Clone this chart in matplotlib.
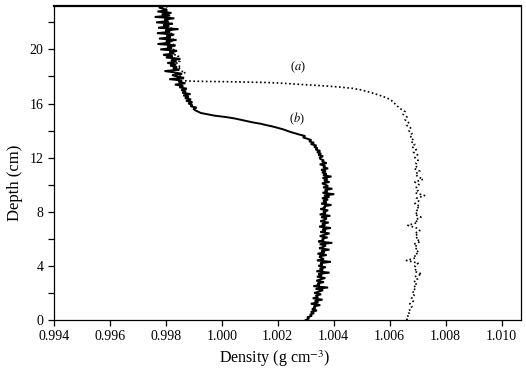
import matplotlib
matplotlib.use("Agg")
import matplotlib.pyplot as plt
from matplotlib.ticker import MultipleLocator, FormatStrFormatter

plt.rcParams['font.family'] = ['Liberation Serif', 'DejaVu Serif']
plt.rcParams['mathtext.fontset'] = 'stix'

# Curve (b): density (g cm^-3) every 0.1 cm of depth, 0 to 23.2 cm
dens_b = [
    1.00300, 1.00312, 1.00305, 1.00322, 1.00315, 1.00330, 1.00318, 1.00340, 1.00322, 1.00335,
    1.00328, 1.00352, 1.00318, 1.00345, 1.00332, 1.00360, 1.00325, 1.00342, 1.00338, 1.00355,
    1.00330, 1.00348, 1.00362, 1.00335, 1.00380, 1.00328, 1.00350, 1.00342, 1.00365, 1.00338,
    1.00352, 1.00370, 1.00340, 1.00358, 1.00345, 1.00385, 1.00338, 1.00362, 1.00350, 1.00372,
    1.00345, 1.00360, 1.00352, 1.00390, 1.00340, 1.00365, 1.00355, 1.00348, 1.00375, 1.00342,
    1.00368, 1.00355, 1.00385, 1.00348, 1.00362, 1.00372, 1.00350, 1.00395, 1.00345, 1.00365,
    1.00358, 1.00378, 1.00350, 1.00368, 1.00385, 1.00352, 1.00372, 1.00360, 1.00390, 1.00348,
    1.00370, 1.00358, 1.00382, 1.00352, 1.00368, 1.00375, 1.00355, 1.00388, 1.00350, 1.00372,
    1.00362, 1.00380, 1.00352, 1.00370, 1.00365, 1.00392, 1.00355, 1.00375, 1.00362, 1.00380,
    1.00358, 1.00385, 1.00365, 1.00402, 1.00360, 1.00378, 1.00368, 1.00395, 1.00362, 1.00380,
    1.00370, 1.00358, 1.00385, 1.00365, 1.00378, 1.00360, 1.00392, 1.00362, 1.00375, 1.00358,
    1.00372, 1.00355, 1.00380, 1.00362, 1.00370, 1.00350, 1.00375, 1.00358, 1.00365, 1.00352,
    1.00350, 1.00362, 1.00345, 1.00355, 1.00340, 1.00352, 1.00335, 1.00342, 1.00330, 1.00338,
    1.00318, 1.00330, 1.00312, 1.00320, 1.00305, 1.00290, 1.00298, 1.00278, 1.00262, 1.00245,
    1.00232, 1.00218, 1.00200, 1.00182, 1.00160, 1.00140, 1.00112, 1.00090, 1.00068, 1.00045,
    1.00015, 0.99975, 0.99950, 0.99925, 0.99915, 0.99905, 0.99898, 0.99910, 0.99888, 0.99895,
    0.99880, 0.99895, 0.99872, 0.99890, 0.99868, 0.99882, 0.99862, 0.99888, 0.99858, 0.99872,
    0.99855, 0.99875, 0.99848, 0.99862, 0.99832, 0.99870, 0.99845, 0.99858, 0.99812, 0.99865,
    0.99840, 0.99822, 0.99858, 0.99830, 0.99795, 0.99848, 0.99825, 0.99840, 0.99815, 0.99835,
    0.99805, 0.99838, 0.99818, 0.99852, 0.99800, 0.99825, 0.99790, 0.99830, 0.99812, 0.99840,
    0.99780, 0.99822, 0.99805, 0.99835, 0.99770, 0.99815, 0.99800, 0.99838, 0.99775, 0.99818,
    0.99802, 0.99830, 0.99768, 0.99815, 0.99798, 0.99845, 0.99772, 0.99810, 0.99790, 0.99825,
    0.99765, 0.99808, 0.99795, 0.99830, 0.99760, 0.99815, 0.99785, 0.99820, 0.99770, 0.99805,
    0.99790, 0.99775, 0.99795]
depth_b = [round(0.1 * i, 1) for i in range(len(dens_b))]

# Curve (a): depth (cm) and density (g cm^-3)
depth_a = [round(0.2 * i, 1) for i in range(81)] + [
    16.2, 16.4, 16.6, 16.8, 17.0, 17.12, 17.22, 17.3, 17.36, 17.42, 17.48, 17.52, 17.56, 17.58,
    17.6, 17.62, 17.63, 17.65, 17.68, 17.9, 18.1, 18.3, 18.5, 18.7, 18.9, 19.1, 19.3, 19.5,
    19.7, 19.9, 20.1, 20.3, 20.5, 20.7, 20.9, 21.1, 21.3, 21.5, 21.7, 21.9, 22.1, 22.3, 22.5,
    22.7, 22.9, 23.1, 23.2]
dens_a = [
    1.00660, 1.00668, 1.00662, 1.00675, 1.00670, 1.00680, 1.00672, 1.00685, 1.00678, 1.00688,
    1.00680, 1.00692, 1.00684, 1.00698, 1.00686, 1.00700, 1.00690, 1.00715, 1.00688, 1.00696,
    1.00690, 1.00702, 1.00660, 1.00695, 1.00688, 1.00705, 1.00692, 1.00700, 1.00686, 1.00710,
    1.00694, 1.00702, 1.00690, 1.00708, 1.00696, 1.00665, 1.00700, 1.00692, 1.00712, 1.00690,
    1.00702, 1.00694, 1.00708, 1.00690, 1.00704, 1.00696, 1.00725, 1.00692, 1.00702, 1.00695,
    1.00705, 1.00690, 1.00720, 1.00700, 1.00692, 1.00708, 1.00688, 1.00700, 1.00694, 1.00702,
    1.00690, 1.00700, 1.00685, 1.00695, 1.00680, 1.00690, 1.00676, 1.00685, 1.00672, 1.00680,
    1.00668, 1.00675, 1.00660, 1.00668, 1.00655, 1.00662, 1.00648, 1.00655, 1.00640, 1.00628,
    1.00618,
    1.00608, 1.00592, 1.00565, 1.00535, 1.00500, 1.00468, 1.00420, 1.00370, 1.00325, 1.00280,
    1.00240, 1.00200, 1.00150, 1.00100, 1.00050, 1.00000, 0.99950, 0.99900, 0.99865,
    0.99860, 0.99845, 0.99870, 0.99840, 0.99855, 0.99830, 0.99850, 0.99825, 0.99845, 0.99820,
    0.99838, 0.99815, 0.99835, 0.99810, 0.99830, 0.99812, 0.99828, 0.99805, 0.99825, 0.99808,
    0.99822, 0.99800, 0.99815, 0.99798, 0.99812, 0.99795, 0.99808, 0.99800]

x_ticks = [0.994, 0.996, 0.998, 1.000, 1.002, 1.004, 1.006, 1.008, 1.010]
y_ticks = [0, 4, 8, 12, 16, 20]

fig = plt.figure(figsize=(5.26, 3.71), dpi=100)
ax = fig.add_axes([0.1027, 0.1375, 0.888, 0.846])

ax.plot(dens_b, depth_b, color='black', lw=1.4, solid_joinstyle='miter')
ax.plot(dens_a, depth_a, color='black', lw=1.2, linestyle=(0, (1, 1.5)))

ax.text(1.00271, 18.7, r'($\it{a}$)', fontsize=9, ha='center', va='center')
ax.text(1.00268, 14.9, r'($\it{b}$)', fontsize=9, ha='center', va='center')

ax.set_xlim(0.994, 1.0107)
ax.set_ylim(0, 23.2)
ax.set_xticks(x_ticks)
ax.xaxis.set_major_formatter(FormatStrFormatter('%.3f'))
ax.set_yticks(y_ticks)
ax.yaxis.set_minor_locator(MultipleLocator(2))
ax.tick_params(axis='both', which='major', direction='out', length=4, width=0.9, labelsize=10)
ax.tick_params(axis='y', which='minor', direction='out', length=4, width=0.9)
for s in ax.spines.values():
    s.set_linewidth(0.9)
ax.spines['top'].set_linewidth(1.6)

ax.set_xlabel(r'Density (g cm$^{-3}$)', fontsize=11.5)
ax.xaxis.set_label_coords(0.473, -0.09)
ax.set_ylabel('Depth (cm)', fontsize=12)
ax.yaxis.set_label_coords(-0.066, 0.436)

fig.savefig('out.png', dpi=100)
